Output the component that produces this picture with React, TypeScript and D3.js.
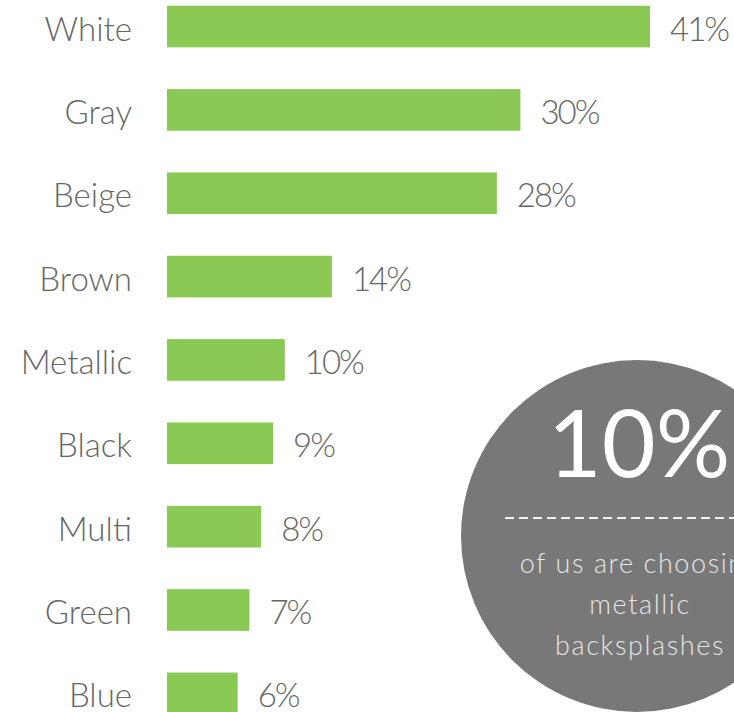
import React from "react";
import * as d3 from "d3";

const categories = ["White", "Gray", "Beige", "Brown", "Metallic", "Black", "Multi", "Green", "Blue"];
const values = [41, 30, 28, 14, 10, 9, 8, 7, 6];
const calloutValue = "10%";
const calloutLines = ["of us are choosing", "metallic", "backsplashes"];

const W = 734;
const H = 712;

export default function App() {
  const x = d3.scaleLinear().domain([0, 41]).range([167, 650]);
  const y = d3
    .scaleBand<string>()
    .domain(categories)
    .range([-15.1, 735])
    .paddingInner(0.5)
    .paddingOuter(0.25);
  const bw = y.bandwidth();
  const font = "Lato, 'Open Sans', sans-serif";
  const cx = 637, cy = 536, r = 176;
  return (
    <div style={{ position: "absolute", left: 0, top: 0 }}>
      <svg width={W} height={H} style={{ display: "block" }}>
        <rect width={W} height={H} fill="#ffffff" />
        {categories.map((c, i) => {
          const yc = (y(c) as number) + bw / 2;
          return (
            <g key={c}>
              <rect x={x(0)} y={y(c)} width={x(values[i]) - x(0)} height={bw} fill="#8bc955" />
              <text x={132} y={yc + 14} textAnchor="end" fontFamily={font} fontWeight={300} fontSize={33} fill="#666666">
                {c}
              </text>
              <text x={x(values[i]) + 20} y={yc + 14} textAnchor="start" fontFamily={font} fontWeight={300} fontSize={33} letterSpacing={-2} fill="#666666">
                {values[i] + "%"}
              </text>
            </g>
          );
        })}
        <circle cx={cx} cy={cy} r={r} fill="#787878" />
        <text x={639} y={477} textAnchor="middle" fontFamily={font} fontWeight={400} fontSize={93} fill="#ffffff">
          {calloutValue}
        </text>
        <line x1={505} x2={W} y1={518} y2={518} stroke="#f2f2f2" strokeWidth={2} strokeDasharray="9,5" />
        {calloutLines.map((t, i) => (
          <text key={t} x={640} y={573 + i * 41} textAnchor="middle" fontFamily={font} fontWeight={300} fontSize={27} letterSpacing={1.6} fill="#e6e6e6">
            {t}
          </text>
        ))}
      </svg>
    </div>
  );
}
